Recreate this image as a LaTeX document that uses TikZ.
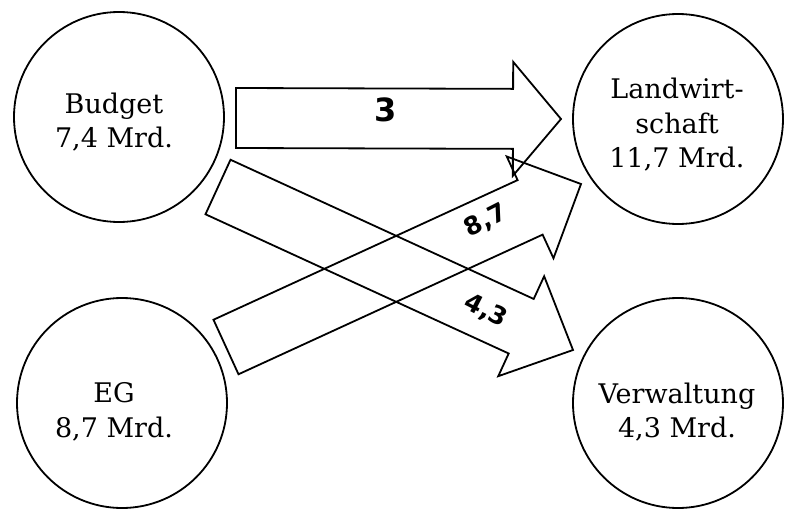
\documentclass[tikz,border=0pt]{standalone}
\usepackage{fontspec}
\setmainfont{DejaVu Serif}
\newfontfamily\numfont{DejaVu Sans}
\usetikzlibrary{calc}

% Block arrow outline: #1 name, #2 tail centre, #3 tip,
% #4 half body width, #5 half head width, #6 head length
\newcommand\flowarrow[6]{%
  \coordinate (#1-b) at ($(#3)!#6!(#2)$);
  \draw[flowline]
    ($(#2)!#4!90:(#3)$) -- ($(#1-b)!#4!90:(#3)$) -- ($(#1-b)!#5!90:(#3)$)
    -- (#3)
    -- ($(#1-b)!#5!-90:(#3)$) -- ($(#1-b)!#4!-90:(#3)$) -- ($(#2)!#4!-90:(#3)$)
    -- cycle;
}

\begin{document}
\begin{tikzpicture}[x=1pt,y=-1pt,
  fund/.style={draw, circle, line width=1.8pt, minimum size=210pt, inner sep=0pt},
  fundtext/.style={align=center, inner sep=0pt, font=\fontsize{27}{34.5}\selectfont},
  flowline/.style={line width=1.8pt, line join=miter},
  flowlabel/.style={inner sep=0pt, font=\numfont\bfseries\fontsize{25}{30}\selectfont}
]
\useasboundingbox (0,0) rectangle (785,512);

% sources and destinations
\node[fund] (budget) at (119,117) {};
\node[fund] (landw)  at (678,119) {};
\node[fund] (eg)     at (122,403) {};
\node[fund] (verw)   at (678,403) {};

\node[fundtext] (budget-t) at (114,122) {Budget\\7,4 Mrd.};
\node[fundtext] (landw-t)  at (677,125) {Landwirt-\\schaft\\11,7 Mrd.};
\node[fundtext] (eg-t)     at (114,412) {EG\\8,7 Mrd.};
\node[fundtext] (verw-t)   at (677,412) {Verwaltung\\4,3 Mrd.};

% arrow tails and tips
\coordinate (budget-out1) at (236,118);
\coordinate (landw-in1)   at (561,119);
\coordinate (eg-out)      at (226,347);
\coordinate (landw-in2)   at (581,184);
\coordinate (budget-out2) at (218,187);
\coordinate (verw-in)     at (573,350);

% money flows
\flowarrow{fa}{budget-out1}{landw-in1}{30pt}{57pt}{48pt}
\flowarrow{fb}{eg-out}{landw-in2}{30pt}{56pt}{56pt}
\flowarrow{fc}{budget-out2}{verw-in}{30pt}{55pt}{57pt}

\node[flowlabel, font=\numfont\bfseries\fontsize{32}{34}\selectfont] (fa-l) at (386,110) {3};
\node[flowlabel, rotate=27]  (fb-l) at (486,221) {8,7};
\node[flowlabel, rotate=-27] (fc-l) at (486,311) {4,3};
\end{tikzpicture}
\end{document}
